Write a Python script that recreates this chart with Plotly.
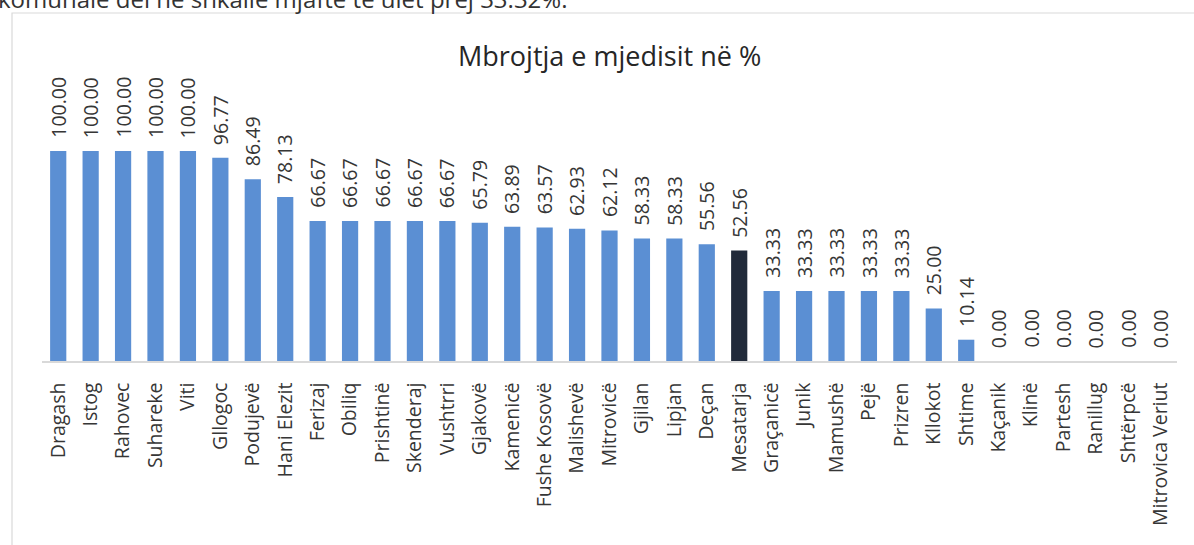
import plotly.graph_objects as go

categories = ["Dragash", "Istog", "Rahovec", "Suhareke", "Viti", "Gllogoc", "Podujevë",
              "Hani Elezit", "Ferizaj", "Obiliq", "Prishtinë", "Skenderaj", "Vushtrri",
              "Gjakovë", "Kamenicë", "Fushe Kosovë", "Malishevë", "Mitrovicë", "Gjilan",
              "Lipjan", "Deçan", "Mesatarja", "Graçanicë", "Junik", "Mamushë", "Pejë",
              "Prizren", "Kllokot", "Shtime", "Kaçanik", "Klinë", "Partesh", "Ranillug",
              "Shtërpcë", "Mitrovica Veriut"]
values = [100.00, 100.00, 100.00, 100.00, 100.00, 96.77, 86.49, 78.13, 66.67, 66.67,
          66.67, 66.67, 66.67, 65.79, 63.89, 63.57, 62.93, 62.12, 58.33, 58.33, 55.56,
          52.56, 33.33, 33.33, 33.33, 33.33, 33.33, 25.00, 10.14, 0.00, 0.00, 0.00,
          0.00, 0.00, 0.00]
highlight = "Mesatarja"
title_text = "Mbrojtja e mjedisit në %"
intro_text = "komunale del në shkallë mjaftë të ulët prej 33.32%."

BLUE = "#5b8fd3"
DARK = "#212a3a"
TXT = "#363636"
FONT = "Open Sans"

colors = [DARK if c == highlight else BLUE for c in categories]

fig = go.Figure(go.Bar(x=categories, y=values, marker=dict(color=colors, line=dict(width=0)),
                       hoverinfo="x+y"))

W, H = 1194, 545
L, R, T, B = 42, 17, 109, 184
pw = W - L - R
ph = H - T - B

annotations = []
for c, v in zip(categories, values):
    annotations.append(dict(x=c, y=v, xref="x", yref="y", text=f"{v:.2f}",
                            textangle=-90, showarrow=False, yanchor="bottom",
                            yshift=11, font=dict(family=FONT, size=19.5, color=TXT)))
annotations.append(dict(x=0.5, y=1.0, xref="paper", yref="paper", yanchor="middle",
                        yshift=T - 55, text=title_text, showarrow=False,
                        font=dict(family=FONT, size=27, color="#262626")))
annotations.append(dict(x=(-4 - L) / pw, y=1.0, xref="paper", yref="paper", xanchor="left",
                        yanchor="middle", yshift=T + 2, text=intro_text, showarrow=False,
                        font=dict(family=FONT, size=24, color="#333333")))
fig.update_layout(annotations=annotations)

fig.add_shape(type="rect", xref="paper", yref="paper",
              x0=(12 - L) / pw, x1=(W + 20 - L) / pw,
              y0=-(H + 20 - (H - B)) / ph, y1=((H - B) - 13) / ph,
              line=dict(color="#d9d9d9", width=1.2), fillcolor="rgba(0,0,0,0)", layer="below")

fig.update_layout(
    width=W, height=H,
    margin=dict(l=L, r=R, t=T, b=B, pad=0),
    paper_bgcolor="white", plot_bgcolor="white",
    bargap=0.5, showlegend=False,
    font=dict(family=FONT, color=TXT),
    xaxis=dict(tickangle=-90, tickfont=dict(family=FONT, size=19.5, color=TXT),
               ticklabelstandoff=12,
               showline=True, linecolor="#d9d9d9", linewidth=1.5, ticks="",
               showgrid=False, fixedrange=True),
    yaxis=dict(range=[0, 120], visible=False, showgrid=False, fixedrange=True),
)

fig.write_html("out.html", config={"displayModeBar": False},
               post_script="document.body.style.margin='0';")
